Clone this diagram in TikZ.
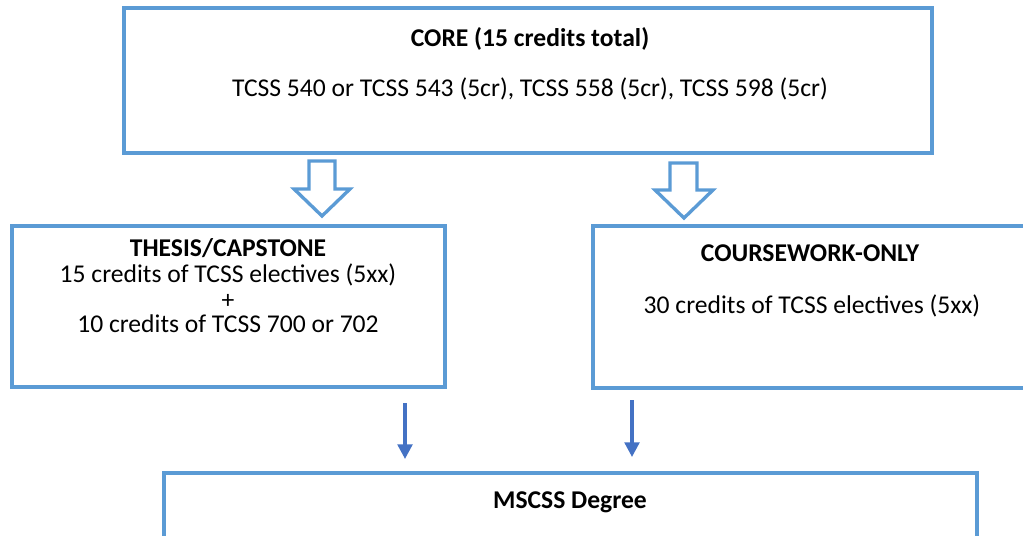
\documentclass[tikz,border=0pt]{standalone}
\usepackage{fontspec}
\setmainfont{Carlito}
\usetikzlibrary{arrows.meta}
\definecolor{boxblue}{HTML}{5B9BD5}
\definecolor{arrowblue}{HTML}{4472C4}
\begin{document}
\begin{tikzpicture}[x=0.75pt,y=-0.75pt,
  box/.style={draw=boxblue,line width=2.5pt,minimum width=#1,inner sep=0pt,anchor=center},
  txt/.style={font=\fontsize{19.2pt}{23pt}\selectfont,anchor=base,inner sep=0pt},
  btxt/.style={font=\fontsize{19.2pt}{23pt}\selectfont\bfseries,anchor=base,inner sep=0pt},
  hollow/.style={draw=boxblue,line width=2.5pt,fill=white,line join=miter},
  thin/.style={draw=arrowblue,line width=2.5pt,-{Triangle[width=11pt,length=11pt]}}]
\useasboundingbox (0,0) rectangle (1023,535);
\clip (0,0) rectangle (1023,535);
% boxes
\node[box=808*0.75pt,minimum height=145*0.75pt] (core) at (528,80.5) {};
\node[box=433*0.75pt,minimum height=161*0.75pt] (thesis) at (228.5,306.5) {};
\node[box=437*0.75pt,minimum height=162*0.75pt] (course) at (811.5,307) {};
\node[box=813*0.75pt,minimum height=130*0.75pt] (degree) at (570.5,538) {};
% texts
\node[btxt] (coret) at (530,46) {CORE (15 credits total)};
\node[txt] (corel) at (530,96) {TCSS 540 or TCSS 543 (5cr), TCSS 558 (5cr), TCSS 598 (5cr)};
\node[btxt] (thesist) at (228,256) {THESIS/CAPSTONE};
\node[txt] (thesisa) at (228,282) {15 credits of TCSS electives (5xx)};
\node[txt] (thesisp) at (228,308) {+};
\node[txt] (thesisb) at (228,332) {10 credits of TCSS 700 or 702};
\node[btxt] (courset) at (810,261) {COURSEWORK-ONLY};
\node[txt] (coursea) at (812,313) {30 credits of TCSS electives (5xx)};
\node[btxt] (degreet) at (570,508) {MSCSS Degree};
% hollow block arrows
\draw[hollow] (309,161) -- (335,161) -- (335,189) -- (350,189) -- (322,216) -- (294,189) -- (309,189) -- cycle;
\draw[hollow] (670,163) -- (697,163) -- (697,190) -- (713,190) -- (684,218) -- (655,190) -- (670,190) -- cycle;
% thin arrows
\coordinate (a1s) at (405,403);
\coordinate (a1e) at (405,459);
\coordinate (a2s) at (632,400);
\coordinate (a2e) at (632,457);
\draw[thin] (a1s) -- (a1e);
\draw[thin] (a2s) -- (a2e);
\end{tikzpicture}
\end{document}
